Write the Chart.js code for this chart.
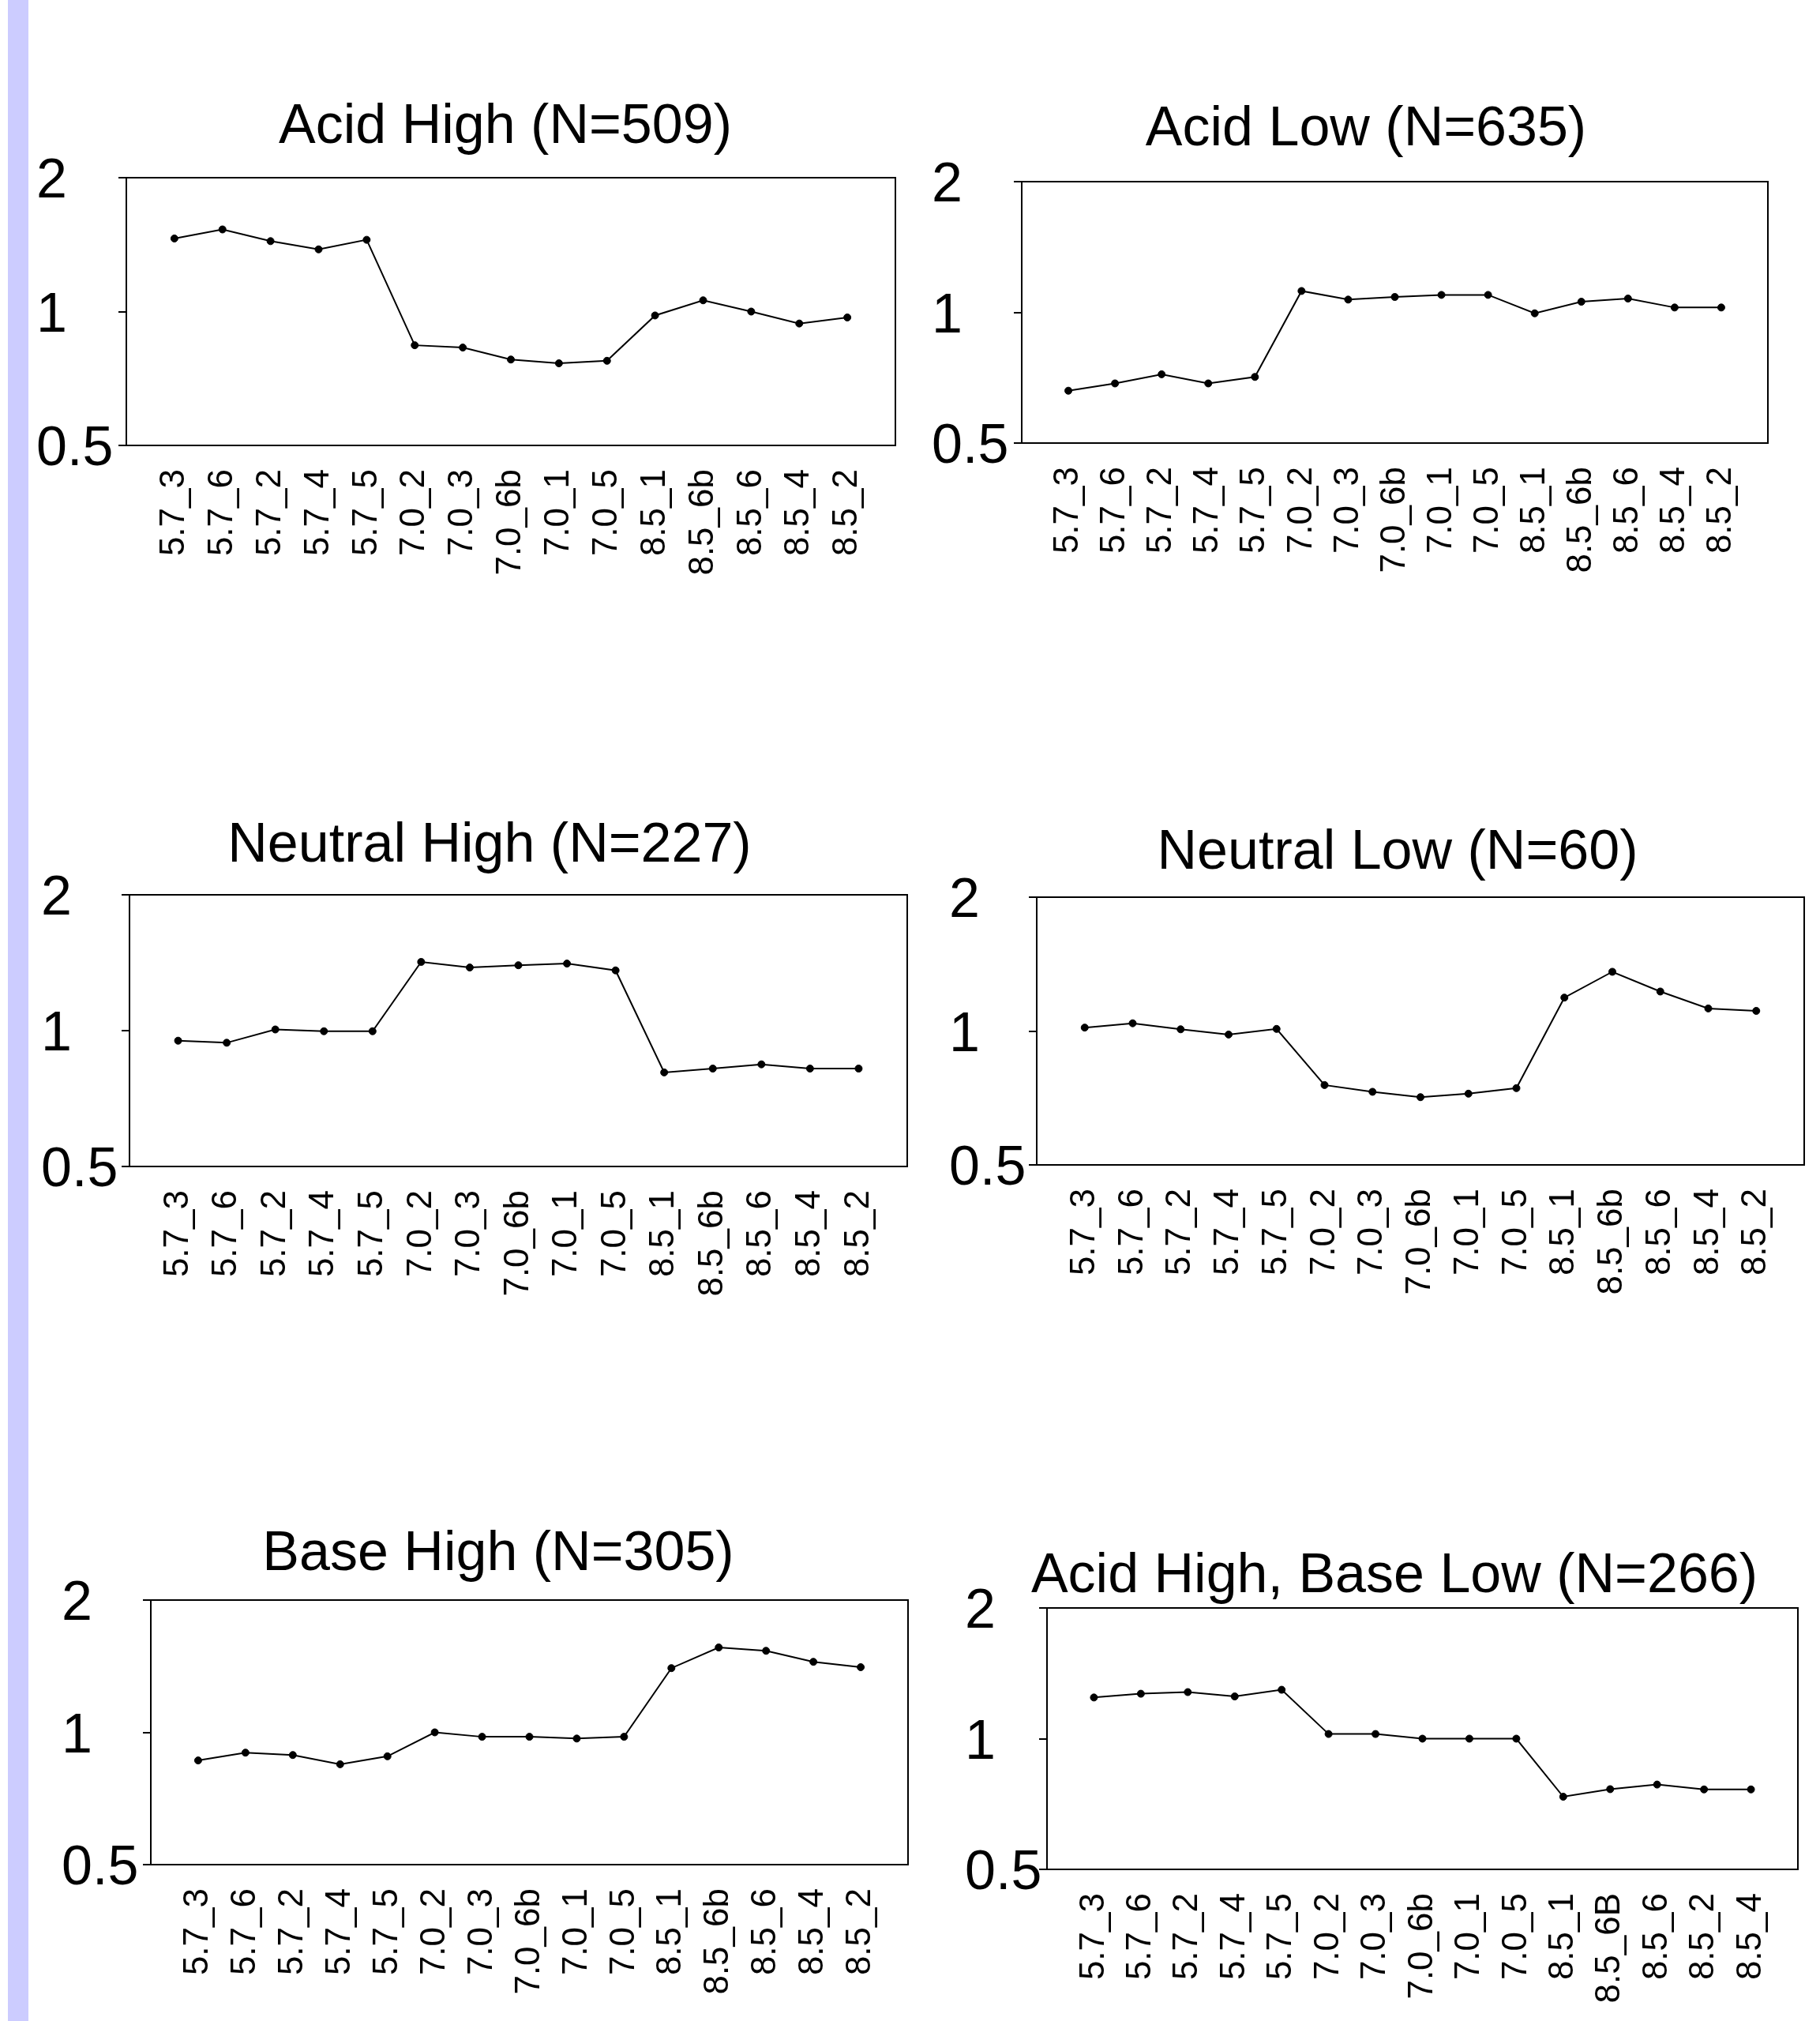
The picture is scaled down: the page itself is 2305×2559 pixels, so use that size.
<!DOCTYPE html>
<html>
<head>
<meta charset="utf-8">
<title>pH profiles</title>
<script src="https://cdn.jsdelivr.net/npm/chart.js@4/dist/chart.umd.min.js"></script>
<style>
  html, body { margin: 0; padding: 0; background: #fff; width: 2305px; height: 2559px; overflow: hidden; }
  #strip { position: absolute; left: 10px; top: 0; width: 26px; height: 2559px; background: #ccccff; }
  canvas { position: absolute; }
</style>
</head>
<body>
<div id="strip"></div>
<script>
// categories (last panel has a different order at the end)
const conditions = ['5.7_3', '5.7_6', '5.7_2', '5.7_4', '5.7_5', '7.0_2', '7.0_3', '7.0_6b', '7.0_1', '7.0_5', '8.5_1', '8.5_6b', '8.5_6', '8.5_4', '8.5_2'];
const conditionsAHBL = ['5.7_3', '5.7_6', '5.7_2', '5.7_4', '5.7_5', '7.0_2', '7.0_3', '7.0_6b', '7.0_1', '7.0_5', '8.5_1', '8.5_6B', '8.5_6', '8.5_2', '8.5_4'];
const yTicks = [0.5, 1, 2];

const titles = ['Acid High (N=509)', 'Acid Low (N=635)', 'Neutral High (N=227)', 'Neutral Low (N=60)', 'Base High (N=305)', 'Acid High, Base Low (N=266)'];

// values (log scale)
const acidHigh = [1.46, 1.53, 1.44, 1.38, 1.45, 0.84, 0.83, 0.78, 0.765, 0.775, 0.98, 1.06, 1.0, 0.94, 0.97];
const acidLow = [0.66, 0.686, 0.72, 0.686, 0.71, 1.12, 1.07, 1.085, 1.097, 1.097, 0.995, 1.058, 1.076, 1.026, 1.026];
const neutralHigh = [0.95, 0.94, 1.006, 0.997, 0.997, 1.42, 1.38, 1.396, 1.408, 1.36, 0.808, 0.824, 0.842, 0.824, 0.824];
const neutralLow = [1.018, 1.041, 1.009, 0.982, 1.011, 0.756, 0.73, 0.71, 0.723, 0.744, 1.189, 1.359, 1.227, 1.124, 1.11];
const baseHigh = [0.863, 0.899, 0.888, 0.846, 0.882, 1.0, 0.977, 0.977, 0.968, 0.977, 1.4, 1.56, 1.533, 1.447, 1.407];
const acidHighBaseLow = [1.244, 1.269, 1.28, 1.251, 1.296, 1.025, 1.025, 1.0, 1.0, 1.0, 0.735, 0.765, 0.784, 0.764, 0.764];

const series = [acidHigh, acidLow, neutralHigh, neutralLow, baseHigh, acidHighBaseLow];
const categories = [conditions, conditions, conditions, conditions, conditions, conditionsAHBL];

// where each panel sits on the page (plot box, title centre, left of y labels)
const layout = [
    {left: 46, titleX: 640, titleY: 162, boxL: 160, boxR: 1134, boxT: 225, boxB: 564},
    {left: 1180, titleX: 1730, titleY: 165, boxL: 1294, boxR: 2239, boxT: 230, boxB: 561},
    {left: 52, titleX: 620, titleY: 1072, boxL: 164, boxR: 1149, boxT: 1133, boxB: 1477},
    {left: 1202, titleX: 1770, titleY: 1081, boxL: 1313, boxR: 2285, boxT: 1136, boxB: 1475},
    {left: 78, titleX: 631, titleY: 1969, boxL: 191, boxR: 1150, boxT: 2026, boxB: 2361},
    {left: 1222, titleX: 1766, titleY: 1997, boxL: 1326, boxR: 2277, boxT: 2036, boxB: 2367}
];

const FONT = "'Liberation Sans', Arial, Helvetica, sans-serif";
const TITLE_SIZE = 70;
const X_AXIS_H = 185;

function makePanel(title, cats, values, pos) {
    const lineH = TITLE_SIZE * 1.2;
    const top = Math.round(pos.titleY - lineH / 2);
    const width = 2 * (pos.titleX - pos.left);
    const height = pos.boxB - top + X_AXIS_H;

    const canvas = document.createElement('canvas');
    canvas.width = width;
    canvas.height = height;
    canvas.style.left = pos.left + 'px';
    canvas.style.top = top + 'px';
    canvas.style.width = width + 'px';
    canvas.style.height = height + 'px';
    document.body.appendChild(canvas);

    new Chart(canvas.getContext('2d'), {
        type: 'line',
        data: {
            datasets: [{
                data: values.map((v, i) => ({x: i + 1, y: v})),
                borderColor: '#000',
                borderWidth: 2,
                pointRadius: 4.5,
                pointBackgroundColor: '#000',
                pointBorderColor: '#000',
                pointBorderWidth: 1,
                tension: 0,
                fill: false
            }]
        },
        options: {
            responsive: false,
            animation: false,
            devicePixelRatio: 1,
            layout: {padding: 0},
            plugins: {
                legend: {display: false},
                tooltip: {enabled: false},
                title: {
                    display: true,
                    text: title,
                    color: '#000',
                    font: {family: FONT, size: TITLE_SIZE, weight: 'normal', lineHeight: 1.2},
                    padding: {top: 0, bottom: pos.boxT - top - lineH}
                }
            },
            scales: {
                x: {
                    type: 'linear',
                    position: 'bottom',
                    min: 0,
                    max: cats.length + 1,
                    grid: {display: false},
                    border: {display: true, color: '#000', width: 2},
                    afterBuildTicks: (s) => { s.ticks = cats.map((c, i) => ({value: i + 1})); },
                    afterFit: (s) => { s.height = X_AXIS_H; },
                    ticks: {
                        autoSkip: false,
                        maxRotation: 90,
                        minRotation: 90,
                        padding: 22,
                        color: '#000',
                        font: {family: FONT, size: 44},
                        callback: (v) => cats[v - 1]
                    }
                },
                xTop: {
                    type: 'linear',
                    position: 'top',
                    display: true,
                    grid: {display: false},
                    ticks: {display: false},
                    border: {display: true, color: '#000', width: 2},
                    afterFit: (s) => { s.height = 0; }
                },
                y: {
                    type: 'logarithmic',
                    position: 'left',
                    min: 0.5,
                    max: 2,
                    grid: {display: true, drawOnChartArea: false, drawTicks: true, tickLength: 10, color: '#000', lineWidth: 2},
                    border: {display: true, color: '#000', width: 2},
                    afterBuildTicks: (s) => { s.ticks = yTicks.map(v => ({value: v})); },
                    afterFit: (s) => { s.width = pos.boxL - pos.left; },
                    ticks: {
                        crossAlign: 'far',
                        labelOffset: 6,
                        color: '#000',
                        font: {family: FONT, size: 70},
                        callback: (v) => String(v)
                    }
                },
                yRight: {
                    type: 'linear',
                    position: 'right',
                    display: true,
                    grid: {display: false},
                    ticks: {display: false},
                    border: {display: true, color: '#000', width: 2},
                    afterFit: (s) => { s.width = pos.left + width - pos.boxR; }
                }
            }
        }
    });
}

for (let i = 0; i < titles.length; i++) {
    makePanel(titles[i], categories[i], series[i], layout[i]);
}
</script>
</body>
</html>
